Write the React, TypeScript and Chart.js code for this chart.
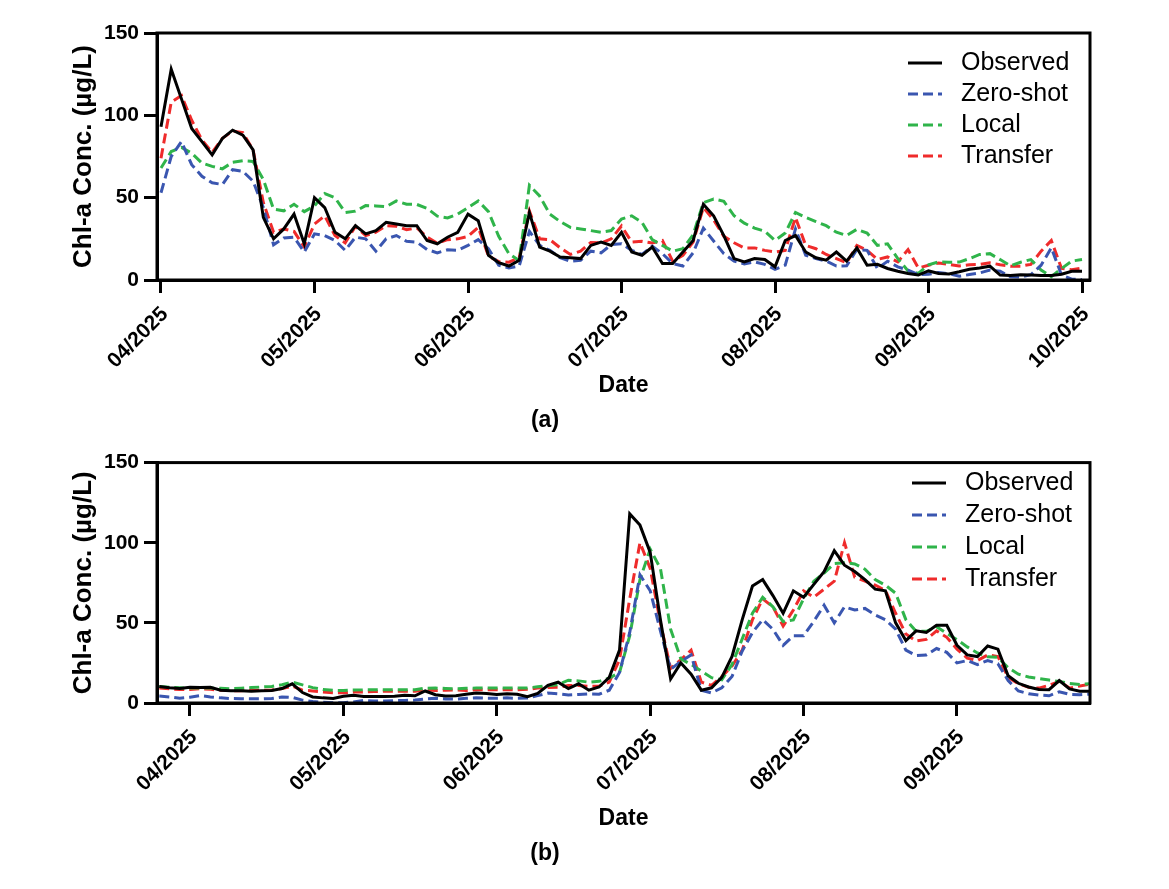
import React, { useEffect, useRef } from "react";
import { Chart, registerables } from "chart.js";

Chart.register(...registerables);

// ---------- data ----------
// One sample every ~2 days: 15 samples per month, x in month units (0 = 04/2025)
const SAMPLES_PER_MONTH = 15;

const monthLabelsA = ["04/2025", "05/2025", "06/2025", "07/2025", "08/2025", "09/2025", "10/2025"];
const monthLabelsB = ["04/2025", "05/2025", "06/2025", "07/2025", "08/2025", "09/2025"];
const seriesNames = ["Observed", "Zero-shot", "Local", "Transfer"];
const yTicks = [0, 50, 100, 150];

// Panel (a): samples start at 04/2025 (index 0)
const startA = 0;
const observedA = [
  93, 128, 110, 92, 84, 76, 86, 91, 88, 79,
  38, 25, 31, 40, 22, 50, 44, 29, 25, 33,
  28, 30, 35, 34, 33, 33, 24, 22, 26, 29,
  40, 36, 15, 10.5, 8.5, 12, 41, 20, 17.5, 14,
  13.5, 13, 21, 23, 21, 29, 17, 15, 20, 10,
  10, 17, 24, 46, 39, 27, 13, 11, 13, 12.5,
  8, 24, 27, 17, 13.5, 12, 17, 11.5, 19.5, 9,
  9.5, 7, 5.3, 4, 3, 5.5, 4, 3.7, 5, 6.5,
  7.3, 8.4, 3, 2.7, 3.2, 3, 2.7, 2.8, 3.5, 5.3,
  5.3,
];
const zeroShotA = [
  53, 75, 84, 70, 63, 59, 58, 67, 66, 60,
  44, 21.4, 25.5, 26, 17, 28, 27, 24, 18, 26,
  25, 17.5, 25, 27, 23.5, 23, 18.5, 16.5, 18.3, 18,
  21, 24.5, 19, 9, 7.3, 8.5, 29.5, 21, 18, 13.5,
  11.4, 12, 17.5, 16.5, 21.5, 22, 18, 15.5, 20.5, 16,
  10, 8.5, 16.5, 31.5, 23.7, 16, 11.4, 9.8, 11, 9.5,
  6.5, 9, 31, 15, 13, 11.5, 8.5, 8.6, 18.5, 18,
  7, 11.4, 8, 6, 3.3, 3.5, 4.6, 3.8, 2.3, 3.3,
  4.3, 6, 5.3, 2, 1.8, 3.2, 9, 19.5, 3, 0.5,
  0.2,
];
const localA = [
  68, 78, 80.5, 77, 71, 69, 67.5, 71.5, 72.4, 72,
  61, 43, 42, 46, 41.5, 45, 52.5, 50, 41, 41.8,
  45.2, 45, 44.5, 48, 46, 45.9, 43.5, 38.8, 37.7, 40,
  44, 48, 41.5, 26.5, 16, 11.8, 57.5, 51, 40, 35.5,
  32, 31, 30, 29, 30, 37, 39, 35, 24.5, 21,
  17.5, 19, 27.5, 47, 49.2, 47.8, 39, 34.5, 31.5, 29.6,
  24, 28.5, 41, 38, 35.5, 33, 29, 27, 30.8, 28.5,
  21, 22, 13, 5.5, 4, 9.2, 11, 10.8, 10.9, 13,
  15.5, 16, 12.4, 8.6, 10.8, 12.4, 6, 2, 7, 11.5,
  12.4,
];
const transferA = [
  74, 108, 112, 97, 85, 77.5, 86, 90.5, 89.5, 79,
  47, 29, 31, 29.5, 20, 34, 39, 27, 22.5, 32.5,
  27, 29, 33, 32.7, 30.5, 31.6, 26, 22.4, 24.5, 25,
  26.5, 32, 14.5, 11.2, 10.8, 13.5, 42, 25, 24.5, 19.6,
  15.5, 17.5, 22.8, 22.5, 25, 32.8, 23, 23.5, 22.5, 24,
  11.4, 15, 23, 44, 36.5, 26.5, 22.6, 19.5, 19.5, 18,
  17, 18, 38, 21, 19, 15.5, 13, 10.4, 21, 18,
  12.5, 14, 11, 18.5, 7.3, 9, 10.3, 9.5, 8.5, 9.3,
  9.4, 10.4, 9.3, 8.4, 8.4, 9.5, 17.5, 24, 7, 6.3,
  7.3,
];

// Panel (b): samples start 3 steps (~6 days) before 04/2025
const startB = -3;
const observedB = [
  10.3, 9.5, 9, 9.8, 9.7, 9.8, 8, 7.7, 7.7, 7.4,
  7.7, 7.8, 9, 12, 6.5, 3.8, 3.2, 2.8, 4.2, 4.8,
  4.1, 4, 4.1, 4.2, 4.9, 4.5, 7.5, 5.2, 4.4, 4.5,
  5.5, 6.3, 6, 5.3, 5.8, 5.5, 4, 6, 11, 13,
  9, 12, 8, 10, 16, 33, 118, 111, 94, 52,
  15, 25, 18, 8, 9.5, 16, 29, 52, 73, 77,
  67, 56, 70, 66, 74, 82, 95, 86, 82, 77,
  71, 70, 50, 39, 45, 44, 48.5, 48.5, 36, 30,
  29, 35.6, 33.6, 17, 12.3, 10, 8.4, 8.3, 14, 8.8,
  7.3, 7.3,
];
const zeroShotB = [
  4.3, 3.8, 3, 3.6, 4.6, 3.8, 3.2, 2.8, 2.7, 2.6,
  2.6, 2.8, 3.8, 3.5, 1.8, 0.9, 0.4, 0.2, 0.2, 0.7,
  1.6, 1.2, 1.2, 1.5, 1.6, 1.8, 2.5, 3, 2.5, 2.4,
  2.9, 3.2, 3, 3, 3.2, 2.9, 3.1, 4.6, 6.2, 5.8,
  5, 5.3, 5.7, 5.5, 8, 19, 44, 80, 70, 45,
  21, 26, 30, 8, 6.3, 9.5, 16.5, 32.5, 44, 52,
  46, 36, 42, 42, 51, 61, 50, 60, 58, 59,
  55, 52, 46, 33, 29.6, 30, 34, 31.6, 25, 26.5,
  24, 26.5, 24.5, 14, 7.5, 5.8, 5, 4.5, 7, 5.4,
  5.2, 5.5,
];
const localB = [
  10.3, 9.8, 9.5, 9.3, 9.3, 9.3, 9.2, 8.9, 9.2, 9.6,
  10, 10.3, 11.4, 13, 11.3, 9.6, 8.4, 7.9, 7.8, 8.1,
  8.2, 8.3, 8.3, 8.3, 8.3, 8.3, 9.2, 9.3, 9.1, 8.9,
  9.2, 9.3, 9.3, 9.3, 9.3, 9.3, 9.3, 10.2, 10.8, 11.5,
  14.2, 13.8, 13, 13.5, 15.6, 19, 42, 77, 96, 84,
  46, 27.5, 24, 20, 15.8, 14.5, 24, 40, 56, 66,
  60, 50.8, 51.8, 65, 76, 81, 87, 87.5, 86.8, 83.5,
  77, 73.5, 68.5, 52, 44.7, 44.7, 47.6, 43.4, 39.5, 35,
  31.2, 28.8, 28.5, 22, 18, 16.2, 15.3, 14.3, 13.4, 12.2,
  11.6, 12,
];
const transferB = [
  9.3, 8.8, 8.4, 8.5, 8.9, 8.5, 8, 7.7, 7.7, 7.9,
  7.9, 8.1, 9, 10.5, 8, 7.5, 6.9, 6.4, 6.4, 6.9,
  6.9, 7.1, 7.3, 7.3, 7.3, 7.3, 8.2, 7.8, 8, 8.2,
  7.8, 8.2, 8.2, 8.3, 8.3, 8.3, 8.5, 9.3, 9.7, 9.8,
  10.9, 10.9, 10.4, 10.5, 13, 27, 65, 100, 84, 50,
  21.5, 27, 33, 13, 11, 16.5, 23, 33, 52, 65,
  60, 48, 58, 70, 66, 71, 76, 100, 78.5, 76,
  73.5, 70.3, 56, 43, 38.7, 39.7, 45, 41, 33.6, 28,
  26.5, 30, 29, 16, 12, 9.8, 9.3, 11, 13.5, 9.3,
  10.6, 11.7,
];

// ---------- styles ----------
const BLACK = "#000000";
const BLUE = "#3a56b0";
const GREEN = "#2fb44a";
const RED = "#ef2b2b";
const DASH = [10, 5];
const FONT = "'Liberation Sans', Arial, Helvetica, sans-serif";

function toPoints(values: number[], startIndex: number) {
  return values.map((v, k) => ({ x: (startIndex + k) / SAMPLES_PER_MONTH, y: v }));
}

const framePlugin = {
  id: "frame",
  afterDatasetsDraw(chart: any) {
    const { ctx, chartArea } = chart;
    const { left, top, right, bottom } = chartArea;
    ctx.save();
    ctx.strokeStyle = BLACK;
    ctx.lineWidth = 3;
    ctx.strokeRect(left, top, right - left, bottom - top);
    ctx.restore();
  },
};

const insideLegendPlugin = {
  id: "insideLegend",
  afterDraw(chart: any, _args: any, opts: any) {
    const { ctx } = chart;
    ctx.save();
    chart.data.datasets.forEach((ds: any, i: number) => {
      const y = opts.y + i * opts.gap;
      ctx.beginPath();
      ctx.setLineDash(ds.borderDash || []);
      ctx.strokeStyle = ds.borderColor;
      ctx.lineWidth = ds.borderWidth;
      ctx.moveTo(opts.x, y);
      ctx.lineTo(opts.x + opts.len, y);
      ctx.stroke();
      ctx.setLineDash([]);
      ctx.fillStyle = BLACK;
      ctx.font = `${opts.size}px ${FONT}`;
      ctx.textAlign = "left";
      ctx.textBaseline = "middle";
      ctx.fillText(ds.label, opts.textX, y);
    });
    ctx.restore();
  },
};

type PanelSpec = {
  label: string;
  start: number;
  series: number[][];
  monthLabels: string[];
  xMin: number;
  xMax: number;
  padTop: number;
  padBottom: number;
  xHeight: number;
  dateGap: number;
  legend: { x: number; len: number; textX: number; y: number; gap: number; size: number };
};

const panelA: PanelSpec = {
  label: "(a)",
  start: startA,
  series: [observedA, zeroShotA, localA, transferA],
  monthLabels: monthLabelsA,
  xMin: -0.026,
  xMax: 6.052,
  padTop: 33,
  padBottom: 10,
  xHeight: 126.4,
  dateGap: 6.5,
  legend: { x: 908, len: 34, textX: 961, y: 63, gap: 31, size: 25 },
};

const panelB: PanelSpec = {
  label: "(b)",
  start: startB,
  series: [observedB, zeroShotB, localB, transferB],
  monthLabels: monthLabelsB,
  xMin: -0.215,
  xMax: 5.867,
  padTop: 10,
  padBottom: 22,
  xHeight: 136.4,
  dateGap: 7,
  legend: { x: 912, len: 34, textX: 965, y: 38, gap: 32, size: 25 },
};

const colors = [BLACK, BLUE, GREEN, RED];

function buildConfig(p: PanelSpec): any {
  const datasets = p.series.map((vals, i) => ({
    label: seriesNames[i],
    data: toPoints(vals, p.start),
    borderColor: colors[i],
    backgroundColor: colors[i],
    borderWidth: 3,
    borderDash: i === 0 ? [] : DASH,
    pointRadius: 0,
    tension: 0,
    fill: false,
  }));
  const gridOpts = {
    display: true,
    drawOnChartArea: false,
    drawTicks: true,
    tickLength: 13,
    tickWidth: 3,
    tickColor: BLACK,
  };
  const borderOpts = { display: true, color: BLACK, width: 3 };
  return {
    type: "line",
    data: { datasets },
    plugins: [framePlugin, insideLegendPlugin],
    options: {
      animation: false,
      responsive: false,
      maintainAspectRatio: false,
      events: [],
      layout: { padding: { left: 0, right: 79, top: p.padTop, bottom: p.padBottom } },
      plugins: {
        legend: { display: false },
        tooltip: { enabled: false },
        title: {
          display: true,
          position: "bottom",
          text: p.label,
          color: BLACK,
          font: { family: FONT, size: 23, weight: "bold" },
          padding: 0,
        },
        insideLegend: p.legend,
      },
      scales: {
        x: {
          type: "linear",
          min: p.xMin,
          max: p.xMax,
          afterBuildTicks: (scale: any) => {
            scale.ticks = p.monthLabels.map((_, i) => ({ value: i }));
          },
          afterFit: (scale: any) => {
            scale.height = p.xHeight;
          },
          ticks: {
            autoSkip: false,
            minRotation: 45,
            maxRotation: 45,
            padding: 9,
            labelOffset: 4,
            color: BLACK,
            font: { family: FONT, size: 21, weight: "bold" },
            callback: (v: any) => p.monthLabels[Math.round(Number(v))] ?? "",
          },
          grid: gridOpts,
          border: borderOpts,
          title: {
            display: true,
            text: "Date",
            color: BLACK,
            font: { family: FONT, size: 23, weight: "bold" },
            padding: { top: 0, bottom: p.dateGap },
          },
        },
        y: {
          type: "linear",
          min: 0,
          max: 150,
          afterBuildTicks: (scale: any) => {
            scale.ticks = yTicks.map((v) => ({ value: v }));
          },
          afterFit: (scale: any) => {
            scale.width = 157;
          },
          ticks: {
            padding: 5,
            color: BLACK,
            font: { family: FONT, size: 21, weight: "bold" },
          },
          grid: gridOpts,
          border: borderOpts,
          title: {
            display: true,
            text: "Chl-a Conc. (µg/L)",
            color: BLACK,
            font: { family: FONT, size: 26, weight: "bold" },
            padding: { top: 68, bottom: 0 },
          },
        },
      },
    },
  };
}

function Panel({ spec, top }: { spec: PanelSpec; top: number }) {
  const ref = useRef<HTMLCanvasElement | null>(null);
  useEffect(() => {
    if (!ref.current) return;
    const chart = new Chart(ref.current, buildConfig(spec));
    return () => chart.destroy();
  }, [spec]);
  return (
    <canvas
      ref={ref}
      width={1169}
      height={444}
      style={{ position: "absolute", left: 0, top, width: 1169, height: 444, display: "block" }}
    />
  );
}

export default function App() {
  return (
    <div style={{ position: "absolute", left: 0, top: 0, width: 1169, height: 889, background: "#ffffff" }}>
      <Panel spec={panelA} top={0} />
      <Panel spec={panelB} top={445} />
    </div>
  );
}
